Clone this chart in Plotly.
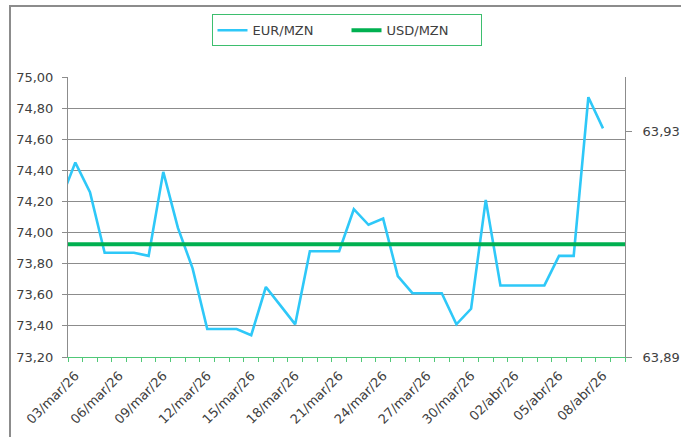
import plotly.graph_objects as go
from datetime import date, timedelta

# ---- data ----
start = date(2026, 3, 2)
dates = [(start + timedelta(days=i)).isoformat() for i in range(40)]  # 02/mar/26 .. 10/abr/26

eur_mzn = [74.21,
           74.45, 74.26, 73.87, 73.87, 73.87, 73.85, 74.39, 74.03, 73.77, 73.38,
           73.38, 73.38, 73.34, 73.65, 73.53, 73.41, 73.88, 73.88, 73.88, 74.15,
           74.05, 74.09, 73.72, 73.61, 73.61, 73.61, 73.41, 73.51, 74.21, 73.66,
           73.66, 73.66, 73.66, 73.85, 73.85, 74.87, 74.67,
           None, None]
usd_mzn = [63.91] * 40

month_pt = {1: "jan", 2: "fev", 3: "mar", 4: "abr", 5: "mai", 6: "jun",
            7: "jul", 8: "ago", 9: "set", 10: "out", 11: "nov", 12: "dez"}
tick_dates = dates[1:38:3]
tick_labels = []
for d in tick_dates:
    y, m, dd = d.split("-")
    tick_labels.append(f"{dd}/{month_pt[int(m)]}/{y[2:]}")

left_ticks = [73.2 + 0.2 * i for i in range(10)]
right_ticks = [63.89, 63.93]

FONT = "DejaVu Sans"
TXT = "#404040"
GRID = "#8c8c8c"

fig = go.Figure()
fig.add_trace(go.Scatter(x=dates, y=eur_mzn, name="EUR/MZN", mode="lines",
                         line=dict(color="#2EC8F8", width=2.6), yaxis="y"))
fig.add_trace(go.Scatter(x=dates, y=usd_mzn, name="USD/MZN", mode="lines",
                         line=dict(color="#00B050", width=4), yaxis="y2"))

fig.update_layout(
    width=681, height=437,
    margin=dict(l=68, r=56, t=77, b=80, autoexpand=False),
    paper_bgcolor="white", plot_bgcolor="white",
    separators=", ",
    font=dict(family=FONT, size=13, color=TXT),
    showlegend=True,
    legend=dict(orientation="h", x=0.5, xanchor="center", y=1.224, yanchor="top",
                bordercolor="#3DBE6E", borderwidth=1, bgcolor="white",
                entrywidth=89, entrywidthmode="pixels",
                font=dict(family=FONT, size=13, color=TXT)),
    xaxis=dict(
        type="date", automargin=False,
        range=["2026-03-02 12:00", "2026-04-09 12:00"],
        tickmode="array", tickvals=tick_dates, ticktext=tick_labels,
        tickangle=-45, ticks="", showgrid=False,
        showline=True, linecolor="#50C878", linewidth=1,
        minor=dict(ticks="outside", ticklen=4, tickcolor="#50C878",
                   tick0="2026-03-02 12:00", dtick=86400000, showgrid=False),
        ticklabelstandoff=5,
        tickfont=dict(family=FONT, size=13, color=TXT),
        zeroline=False,
    ),
    yaxis=dict(
        automargin=False,
        range=[73.2, 75.0], tickmode="array", tickvals=left_ticks,
        tickformat=".2f", showgrid=True, gridcolor=GRID, gridwidth=1,
        showline=True, linecolor=GRID, linewidth=1,
        ticks="outside", ticklen=5, tickcolor=GRID,
        ticklabelstandoff=6, zeroline=False,
        tickfont=dict(family=FONT, size=13, color=TXT),
    ),
    yaxis2=dict(
        automargin=False,
        range=[63.89, 63.9397], overlaying="y", side="right",
        tickmode="array", tickvals=right_ticks, tickformat=".2f",
        showgrid=False, showline=True, linecolor=GRID, linewidth=1,
        ticks="outside", ticklen=6, tickcolor=GRID,
        ticklabelstandoff=8, zeroline=False,
        tickfont=dict(family=FONT, size=13, color=TXT),
    ),
    shapes=[dict(type="rect", xref="paper", yref="paper",
                 x0=(10 - 68) / 557, x1=(700 - 68) / 557,
                 y0=(357 - 450) / 280, y1=(357 - 6) / 280,
                 line=dict(color="#8c8c8c", width=2), fillcolor="rgba(0,0,0,0)",
                 layer="below")],
)

fig.write_html("out.html", config={"displayModeBar": False},
               post_script="document.body.style.margin='0';")
